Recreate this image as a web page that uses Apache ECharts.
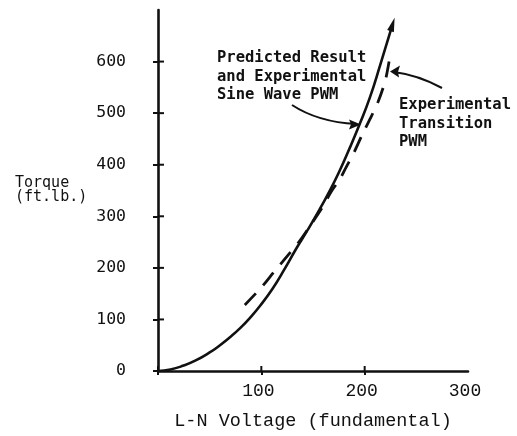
<!DOCTYPE html>
<html>
<head>
<meta charset="utf-8">
<script src="https://cdn.jsdelivr.net/npm/echarts@6/dist/echarts.min.js"></script>
<style>
html,body{margin:0;padding:0;background:#fff;}
#c{width:517px;height:436px;}
</style>
</head>
<body>
<div id="c"></div>
<script>
// Data
var xTicks = [0, 100, 200];
var xLabels = [100, 200, 300];
var yTicks = [0, 100, 200, 300, 400, 500, 600];
var predictedX = [0, 12, 24, 36, 50, 60, 70, 80, 89, 99, 111, 122, 134, 145, 156, 165, 175, 185, 195, 205, 215, 227];
var predictedY = [0, 3, 10, 20, 36, 50, 66, 84, 103, 127, 160, 196, 238, 274, 312, 345, 385, 430, 478, 530, 593, 672];
var transitionX = [84, 100, 113, 121, 137, 147, 158, 168, 176, 182, 190, 198, 206, 213, 218, 221, 224.5];
var transitionY = [128, 162, 194, 213, 252, 281, 314, 349, 372, 395, 425, 460, 492, 522, 550, 572, 610];
var xTitle = 'L-N Voltage (fundamental)';
var yTitle = 'Torque\n(ft.lb.)';
var label1 = 'Predicted Result\nand Experimental\nSine Wave PWM';
var label2 = 'Experimental\nTransition\nPWM';

var INK = '#111';
var predData = predictedX.map(function (x, i) {
  var item = { value: [x, predictedY[i]] };
  if (i === predictedX.length - 1) {
    item.symbol = 'triangle';
    item.symbolSize = [7, 14];
    item.symbolRotate = -17;
    item.itemStyle = { color: INK };
  }
  return item;
});
var transData = transitionX.map(function (x, i) { return [x, transitionY[i]]; });

var chart = echarts.init(document.getElementById('c'), null, { renderer: 'canvas' });
var axLine = { show: true, onZero: false, lineStyle: { color: INK, width: 2.6 } };
chart.setOption({
  backgroundColor: '#fff',
  animation: false,
  grid: { left: 158, right: 49, top: 10, bottom: 64.5, containLabel: false },
  xAxis: {
    type: 'value', min: 0, max: 300, interval: 100, position: 'bottom',
    axisLine: axLine,
    axisTick: { show: true, inside: false, length: 4, lineStyle: { color: INK, width: 2 }, customValues: xTicks },
    axisLabel: { customValues: xLabels, margin: 11, color: INK, fontFamily: 'Liberation Mono', fontSize: 18,
      padding: [0, 6, 0, 0] },
    splitLine: { show: false },
    name: xTitle, nameLocation: 'middle', nameGap: 41,
    nameTextStyle: { color: INK, fontFamily: 'Liberation Mono', fontSize: 18.5 }
  },
  yAxis: {
    type: 'value', min: 0, max: 700, interval: 100, position: 'left',
    axisLine: axLine,
    axisTick: { show: true, inside: false, length: 5, lineStyle: { color: INK, width: 2 }, customValues: yTicks },
    axisLabel: { customValues: yTicks, margin: 32, color: INK, fontFamily: 'DejaVu Sans Mono', fontSize: 16.5,
      padding: [0, 0, 6, 0] },
    splitLine: { show: false }
  },
  series: [{
    name: 'Predicted Result and Experimental Sine Wave PWM',
    type: 'line',
    data: predData, smooth: 0.5, symbol: 'none', showSymbol: true,
    lineStyle: { color: INK, width: 2.6 }, itemStyle: { color: INK }, z: 3
  }, {
    name: 'Experimental Transition PWM',
    type: 'line',
    data: transData, smooth: 0.3, symbol: 'none',
    lineStyle: { color: INK, width: 2.8, type: [16, 11] }, z: 3
  }]
});

// inner halves of the crossing tick marks, placed through the chart's own scales
var tickMarks = [];
xTicks.forEach(function (v) {
  var p = chart.convertToPixel({ xAxisIndex: 0, yAxisIndex: 0 }, [v, 0]);
  tickMarks.push({ type: 'line', shape: { x1: p[0], y1: p[1], x2: p[0], y2: p[1] - 5 }, style: { stroke: INK, lineWidth: 2 }, z: 100 });
});
yTicks.forEach(function (v) {
  var p = chart.convertToPixel({ xAxisIndex: 0, yAxisIndex: 0 }, [0, v]);
  tickMarks.push({ type: 'line', shape: { x1: p[0], y1: p[1], x2: p[0] + 6, y2: p[1] }, style: { stroke: INK, lineWidth: 2 }, z: 100 });
});

chart.setOption({
  graphic: tickMarks.concat([
    { type: 'text', x: 15, y: 176, style: { text: yTitle, font: '15px "DejaVu Sans Mono"', fill: INK, lineHeight: 14, verticalAlign: 'top' } },
    { type: 'text', x: 217, y: 49, style: { text: label1, font: 'bold 15.5px "DejaVu Sans Mono"', fill: INK, lineHeight: 18.5, verticalAlign: 'top' } },
    { type: 'text', x: 399, y: 96, style: { text: label2, font: 'bold 15.5px "DejaVu Sans Mono"', fill: INK, lineHeight: 18.5, verticalAlign: 'top' } },
    { type: 'bezierCurve', shape: { x1: 292, y1: 105, cpx1: 318, cpy1: 122, x2: 356, y2: 124 }, style: { stroke: INK, lineWidth: 2, fill: null } },
    { type: 'polygon', shape: { points: [[361, 124.5], [349, 119.5], [351, 124.3], [349, 129.5]] }, style: { fill: INK } },
    { type: 'bezierCurve', shape: { x1: 442, y1: 88, cpx1: 418, cpy1: 75, x2: 394, y2: 72 }, style: { stroke: INK, lineWidth: 2, fill: null } },
    { type: 'polygon', shape: { points: [[390, 71.5], [400, 65.5], [398, 71.8], [399, 77.5]] }, style: { fill: INK } }
  ])
});
</script>
</body>
</html>
